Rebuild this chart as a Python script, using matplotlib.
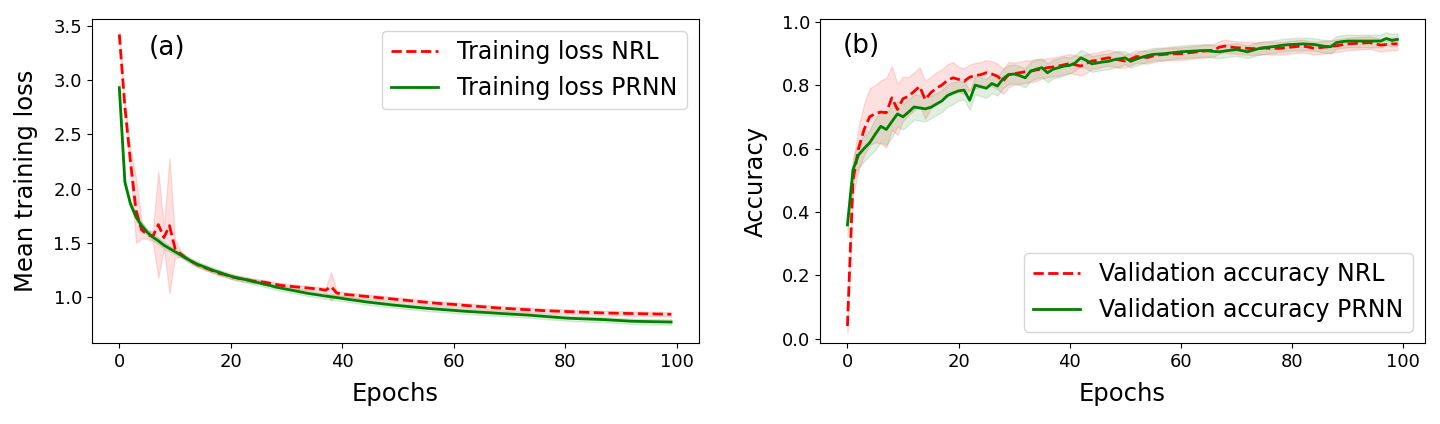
import numpy as np
import matplotlib
matplotlib.use("Agg")
import matplotlib.pyplot as plt

epochs = list(range(100))

loss_nrl = [3.42, 2.75, 2.25, 1.80, 1.62, 1.58, 1.56, 1.67, 1.55, 1.66,
            1.45, 1.40, 1.36, 1.33, 1.30, 1.28, 1.26, 1.24, 1.22, 1.21,
            1.19, 1.18, 1.17, 1.16, 1.15, 1.145, 1.14, 1.13, 1.12, 1.11,
            1.105, 1.10, 1.095, 1.09, 1.085, 1.08, 1.075, 1.065, 1.10, 1.04,
            1.03, 1.025, 1.02, 1.015, 1.01, 1.005, 1.00, 0.995, 0.99, 0.985,
            0.98, 0.975, 0.97, 0.965, 0.96, 0.955, 0.95, 0.945, 0.942, 0.938,
            0.935, 0.93, 0.926, 0.922, 0.918, 0.914, 0.91, 0.906, 0.902, 0.899,
            0.896, 0.893, 0.89, 0.887, 0.884, 0.881, 0.878, 0.876, 0.874, 0.872,
            0.87, 0.868, 0.866, 0.864, 0.862, 0.86, 0.858, 0.856, 0.855, 0.854,
            0.853, 0.852, 0.851, 0.85, 0.849, 0.848, 0.847, 0.846, 0.845, 0.844]

loss_nrl_std = [0.02, 0.05, 0.12, 0.30, 0.08, 0.04, 0.05, 0.49, 0.10, 0.62,
                0.08, 0.03, 0.02, 0.02, 0.02, 0.02, 0.02, 0.02, 0.02, 0.02,
                0.02, 0.02, 0.02, 0.02, 0.02, 0.02, 0.02, 0.02, 0.02, 0.02,
                0.02, 0.02, 0.02, 0.02, 0.02, 0.02, 0.02, 0.02, 0.13, 0.02,
                0.02, 0.02, 0.02, 0.02, 0.02, 0.02, 0.02, 0.02, 0.02, 0.02,
                0.02, 0.02, 0.02, 0.02, 0.02, 0.02, 0.02, 0.02, 0.02, 0.02,
                0.02, 0.02, 0.02, 0.02, 0.02, 0.02, 0.02, 0.02, 0.02, 0.02,
                0.02, 0.02, 0.02, 0.02, 0.02, 0.02, 0.02, 0.02, 0.02, 0.02,
                0.02, 0.02, 0.02, 0.02, 0.02, 0.02, 0.02, 0.02, 0.02, 0.02,
                0.02, 0.02, 0.02, 0.02, 0.02, 0.02, 0.02, 0.02, 0.02, 0.02]

loss_prnn = [2.93, 2.06, 1.86, 1.74, 1.66, 1.60, 1.555, 1.52, 1.48, 1.45,
             1.42, 1.39, 1.36, 1.33, 1.305, 1.285, 1.265, 1.245, 1.23, 1.21,
             1.195, 1.18, 1.17, 1.16, 1.145, 1.135, 1.12, 1.11, 1.095, 1.085,
             1.075, 1.065, 1.055, 1.045, 1.035, 1.028, 1.02, 1.012, 1.005, 0.998,
             0.99, 0.982, 0.975, 0.968, 0.96, 0.954, 0.948, 0.942, 0.936, 0.93,
             0.925, 0.92, 0.915, 0.91, 0.905, 0.90, 0.896, 0.892, 0.888, 0.884,
             0.88, 0.876, 0.872, 0.869, 0.866, 0.863, 0.86, 0.857, 0.853, 0.85,
             0.847, 0.844, 0.841, 0.838, 0.834, 0.83, 0.826, 0.822, 0.818, 0.814,
             0.81, 0.807, 0.805, 0.803, 0.801, 0.799, 0.797, 0.795, 0.792, 0.789,
             0.786, 0.783, 0.78, 0.779, 0.778, 0.777, 0.776, 0.775, 0.774, 0.773]

loss_prnn_std = [0.05, 0.04, 0.03, 0.03, 0.03, 0.03, 0.03, 0.03, 0.03, 0.03,
                 0.025, 0.025, 0.025, 0.025, 0.025, 0.025, 0.025, 0.025, 0.025, 0.025,
                 0.025, 0.025, 0.025, 0.025, 0.025, 0.025, 0.025, 0.025, 0.025, 0.025,
                 0.025, 0.025, 0.025, 0.025, 0.025, 0.025, 0.025, 0.025, 0.025, 0.025,
                 0.025, 0.025, 0.025, 0.025, 0.025, 0.025, 0.025, 0.025, 0.025, 0.025,
                 0.025, 0.025, 0.025, 0.025, 0.025, 0.025, 0.025, 0.025, 0.025, 0.025,
                 0.025, 0.025, 0.025, 0.025, 0.025, 0.025, 0.025, 0.025, 0.025, 0.025,
                 0.025, 0.025, 0.025, 0.025, 0.025, 0.025, 0.025, 0.025, 0.025, 0.025,
                 0.025, 0.025, 0.025, 0.025, 0.025, 0.025, 0.025, 0.025, 0.025, 0.025,
                 0.025, 0.025, 0.025, 0.025, 0.025, 0.025, 0.025, 0.025, 0.025, 0.025]

acc_nrl = [0.04, 0.50, 0.60, 0.66, 0.70, 0.71, 0.715, 0.713, 0.76, 0.723,
           0.757, 0.765, 0.78, 0.796, 0.754, 0.776, 0.79, 0.80, 0.815, 0.823,
           0.818, 0.812, 0.825, 0.83, 0.833, 0.839, 0.835, 0.828, 0.812, 0.833,
           0.836, 0.839, 0.842, 0.844, 0.848, 0.85, 0.855, 0.857, 0.86, 0.864,
           0.868, 0.864, 0.86, 0.868, 0.876, 0.878, 0.883, 0.886, 0.883, 0.879,
           0.876, 0.882, 0.89, 0.889, 0.887, 0.892, 0.895, 0.897, 0.898, 0.899,
           0.899, 0.901, 0.903, 0.905, 0.907, 0.909, 0.91, 0.92, 0.923, 0.92,
           0.918, 0.917, 0.916, 0.915, 0.916, 0.917, 0.916, 0.916, 0.916, 0.918,
           0.92, 0.922, 0.923, 0.92, 0.916, 0.918, 0.92, 0.921, 0.924, 0.927,
           0.93, 0.931, 0.932, 0.933, 0.934, 0.93, 0.926, 0.928, 0.93, 0.93]

acc_nrl_std = [0.02, 0.05, 0.07, 0.08, 0.09, 0.09, 0.10, 0.11, 0.10, 0.08,
               0.07, 0.06, 0.06, 0.06, 0.06, 0.05, 0.05, 0.05, 0.05, 0.05,
               0.04, 0.04, 0.04, 0.04, 0.04, 0.04, 0.04, 0.04, 0.04, 0.04,
               0.035, 0.035, 0.035, 0.035, 0.035, 0.03, 0.03, 0.03, 0.03, 0.03,
               0.03, 0.03, 0.03, 0.03, 0.025, 0.025, 0.025, 0.025, 0.025, 0.025,
               0.02, 0.02, 0.02, 0.02, 0.02, 0.02, 0.02, 0.02, 0.02, 0.02,
               0.02, 0.02, 0.02, 0.02, 0.02, 0.02, 0.02, 0.02, 0.02, 0.02,
               0.02, 0.02, 0.02, 0.02, 0.02, 0.02, 0.02, 0.02, 0.02, 0.02,
               0.02, 0.02, 0.02, 0.02, 0.02, 0.02, 0.02, 0.02, 0.02, 0.02,
               0.02, 0.02, 0.02, 0.02, 0.02, 0.02, 0.02, 0.02, 0.02, 0.02]

acc_prnn = [0.359, 0.533, 0.58, 0.60, 0.618, 0.645, 0.67, 0.66, 0.685, 0.709,
            0.70, 0.715, 0.731, 0.728, 0.725, 0.73, 0.74, 0.75, 0.767, 0.775,
            0.782, 0.784, 0.752, 0.80, 0.795, 0.79, 0.805, 0.797, 0.82, 0.833,
            0.835, 0.83, 0.823, 0.844, 0.85, 0.855, 0.839, 0.85, 0.855, 0.86,
            0.862, 0.87, 0.886, 0.878, 0.867, 0.87, 0.873, 0.875, 0.88, 0.883,
            0.886, 0.875, 0.882, 0.888, 0.893, 0.897, 0.898, 0.899, 0.901, 0.903,
            0.905, 0.906, 0.907, 0.908, 0.909, 0.908, 0.906, 0.905, 0.908, 0.91,
            0.912, 0.909, 0.905, 0.91, 0.915, 0.918, 0.92, 0.922, 0.925, 0.927,
            0.928, 0.929, 0.93, 0.929, 0.928, 0.925, 0.922, 0.921, 0.934, 0.937,
            0.939, 0.939, 0.939, 0.939, 0.939, 0.939, 0.939, 0.947, 0.941, 0.944]

acc_prnn_std = [0.04, 0.04, 0.04, 0.04, 0.04, 0.05, 0.05, 0.05, 0.05, 0.04,
                0.04, 0.04, 0.04, 0.04, 0.04, 0.035, 0.035, 0.035, 0.035, 0.035,
                0.03, 0.03, 0.03, 0.03, 0.03, 0.03, 0.03, 0.03, 0.03, 0.03,
                0.03, 0.03, 0.03, 0.03, 0.03, 0.03, 0.03, 0.03, 0.03, 0.03,
                0.025, 0.025, 0.025, 0.025, 0.025, 0.025, 0.025, 0.025, 0.025, 0.025,
                0.02, 0.02, 0.02, 0.02, 0.02, 0.02, 0.02, 0.02, 0.02, 0.02,
                0.02, 0.02, 0.02, 0.02, 0.02, 0.02, 0.02, 0.02, 0.02, 0.02,
                0.02, 0.02, 0.02, 0.02, 0.02, 0.02, 0.02, 0.02, 0.02, 0.02,
                0.02, 0.02, 0.02, 0.02, 0.02, 0.02, 0.02, 0.02, 0.02, 0.02,
                0.02, 0.02, 0.02, 0.02, 0.02, 0.02, 0.02, 0.02, 0.02, 0.02]

x_ticks = [0, 20, 40, 60, 80, 100]
loss_ticks = [1.0, 1.5, 2.0, 2.5, 3.0, 3.5]
acc_ticks = [0.0, 0.2, 0.4, 0.6, 0.8, 1.0]

TICK_FS = 13
LABEL_FS = 17.5
LEG_FS = 17
PANEL_FS = 19

fig = plt.figure(figsize=(14.4, 4.24), dpi=100)
ax1 = fig.add_axes([0.0637, 0.1903, 0.4215, 0.7649])
ax2 = fig.add_axes([0.5694, 0.1903, 0.4201, 0.7649])

def band(ax, x, m, s, color):
    m = np.asarray(m); s = np.asarray(s)
    ax.fill_between(x, m - s, m + s, color=color, alpha=0.12, linewidth=1, edgecolor=color)

x = np.asarray(epochs)

band(ax1, x, loss_nrl, loss_nrl_std, 'r')
band(ax1, x, loss_prnn, loss_prnn_std, 'g')
ax1.plot(x, loss_nrl, 'r--', lw=2, label='Training loss NRL')
ax1.plot(x, loss_prnn, 'g-', lw=2, label='Training loss PRNN')
ax1.set_xlim(-4.95, 103.95)
ax1.set_ylim(0.577, 3.562)
ax1.set_xticks(x_ticks)
ax1.set_yticks(loss_ticks)
ax1.tick_params(labelsize=TICK_FS)
ax1.set_xlabel('Epochs', fontsize=LABEL_FS, labelpad=8)
ax1.set_ylabel('Mean training loss', fontsize=LABEL_FS, labelpad=11)
ax1.legend(loc='upper right', fontsize=LEG_FS)
ax1.text(0.124, 0.91, '(a)', transform=ax1.transAxes, fontsize=PANEL_FS,
         ha='center', va='center')

band(ax2, x, acc_nrl, acc_nrl_std, 'r')
band(ax2, x, acc_prnn, acc_prnn_std, 'g')
ax2.plot(x, acc_nrl, 'r--', lw=2, label='Validation accuracy NRL')
ax2.plot(x, acc_prnn, 'g-', lw=2, label='Validation accuracy PRNN')
ax2.set_xlim(-4.95, 103.95)
ax2.set_ylim(-0.0145, 1.0085)
ax2.set_xticks(x_ticks)
ax2.set_yticks(acc_ticks)
ax2.tick_params(labelsize=TICK_FS)
ax2.set_xlabel('Epochs', fontsize=LABEL_FS, labelpad=8)
ax2.set_ylabel('Accuracy', fontsize=LABEL_FS, labelpad=10)
ax2.legend(loc='lower right', fontsize=LEG_FS)
ax2.text(0.069, 0.917, '(b)', transform=ax2.transAxes, fontsize=PANEL_FS,
         ha='center', va='center')

fig.savefig('out.png', dpi=100)
